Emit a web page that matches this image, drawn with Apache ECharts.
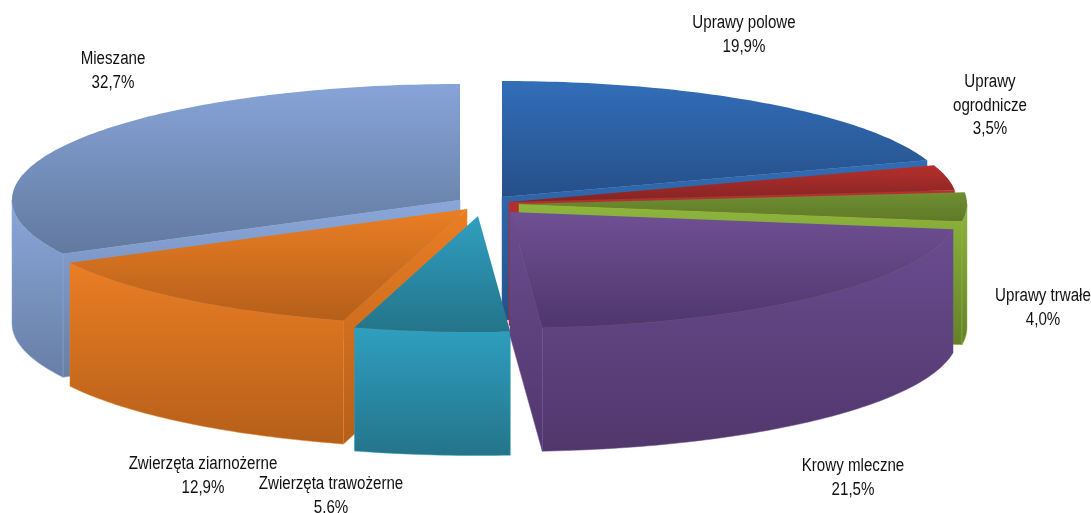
<!DOCTYPE html>
<html>
<head>
<meta charset="utf-8">
<style>
    html, body { margin: 0; padding: 0; background: #fff; }
    #chart { width: 1091px; height: 513px; }
</style>
<script src="https://cdn.jsdelivr.net/npm/echarts@6/dist/echarts.min.js"></script>
</head>
<body>
<div id="chart"></div>
<script>
    // clockwise from 12 o'clock
    const categories = ['Uprawy polowe', 'Uprawy\nogrodnicze', 'Uprawy trwałe', 'Krowy mleczne', 'Zwierzęta trawożerne', 'Zwierzęta ziarnożerne', 'Mieszane']
    const shares = [19.9, 3.5, 4.0, 21.5, 5.6, 12.9, 32.7]

    // layout of the fake 3d pie
    const center = [490, 204]
    const radiusX = 448
    const radiusY = 116
    const depth = 123.5
    const explodeX = [12, 19, 29, 20, -12, -23, -30]
    const explodeY = [-7, -2, 0, 8, 12, 5, -4]
    const labelX = [744, 990, 1043, 853, 331, 203, 113]
    const labelY = [35, 106, 308, 478, 496, 476, 71]
    // painter's order, back to front
    const drawOrder = [0, 1, 2, 6, 5, 4, 3]
    // light, dark
    const topColors = [['#326eb8', '#264f88'], ['#b52f2d', '#842422'], ['#6f8f30', '#5f7a28'], ['#6f5094', '#4f366c'], ['#2f9fc0', '#247489'], ['#ea7e24', '#b55f1a'], ['#87a4d8', '#62799f']]
    const sideColors = [['#316cb4', '#26508a'], ['#b8302e', '#8a2624'], ['#8eb63c', '#64802a'], ['#6a4c90', '#50376b'], ['#2f9fc0', '#247489'], ['#ea7e24', '#b55f1a'], ['#8aa7da', '#687fa5']]

    const total = shares.reduce((a, b) => a + b, 0)

    function gradient (pair) {
        return new echarts.graphic.LinearGradient(0, 0, 0, 1, [
            { offset: 0, color: pair[0] },
            { offset: 1, color: pair[1] }
        ])
    }

    function renderSlice (params, api) {
        const i = params.dataIndex
        let start = 0
        for (let k = 0; k < i; k++) start += shares[k]
        const a0 = start / total * 360
        const a1 = (start + api.value(0)) / total * 360
        const ax = center[0] + explodeX[i]
        const ay = center[1] + explodeY[i]
        const rim = deg => {
            const t = deg * Math.PI / 180
            return [ax + radiusX * Math.sin(t), ay - radiusY * Math.cos(t)]
        }
        const down = p => [p[0], p[1] + depth]
        const arc = (from, to) => {
            const pts = []
            const n = Math.max(2, Math.ceil(to - from))
            for (let k = 0; k <= n; k++) pts.push(rim(from + (to - from) * k / n))
            return pts
        }
        const order = drawOrder.indexOf(i) * 10
        const children = []
        const side = pts => children.push({
            type: 'polygon',
            z2: order + children.length,
            shape: { points: pts },
            style: { fill: gradient(sideColors[i]), stroke: sideColors[i][0], lineWidth: 0.5 }
        })

        // cut faces, only those turned towards the viewer
        const apex = [ax, ay]
        if (Math.sin(a0 * Math.PI / 180) < -0.001) side([apex, rim(a0), down(rim(a0)), down(apex)])
        if (Math.sin(a1 * Math.PI / 180) > 0.001) side([apex, rim(a1), down(rim(a1)), down(apex)])

        // outer wall, front half only
        const w0 = Math.max(a0, 90)
        const w1 = Math.min(a1, 270)
        if (w1 > w0) {
            const upper = arc(w0, w1)
            side(upper.concat(upper.map(down).reverse()))
        }

        children.push({
            type: 'polygon',
            z2: order + 5,
            shape: { points: [apex].concat(arc(a0, a1)) },
            style: { fill: gradient(topColors[i]) }
        })
        children.push({
            type: 'text',
            z2: 100,
            x: labelX[i],
            y: labelY[i],
            scaleX: 0.84,
            style: {
                text: categories[i] + '\n' + api.value(0).toFixed(1).replace('.', ',') + '%',
                x: 0,
                y: 0,
                align: 'center',
                verticalAlign: 'middle',
                fill: '#111',
                font: '18px "Liberation Sans", sans-serif',
                lineHeight: 23.5
            }
        })
        return { type: 'group', children }
    }

    const chart = echarts.init(document.getElementById('chart'))
    chart.setOption({
        animation: false,
        backgroundColor: '#fff',
        series: [{
            type: 'custom',
            coordinateSystem: 'none',
            silent: true,
            renderItem: renderSlice,
            data: shares.map(v => [v])
        }]
    })
</script>
</body>
</html>
